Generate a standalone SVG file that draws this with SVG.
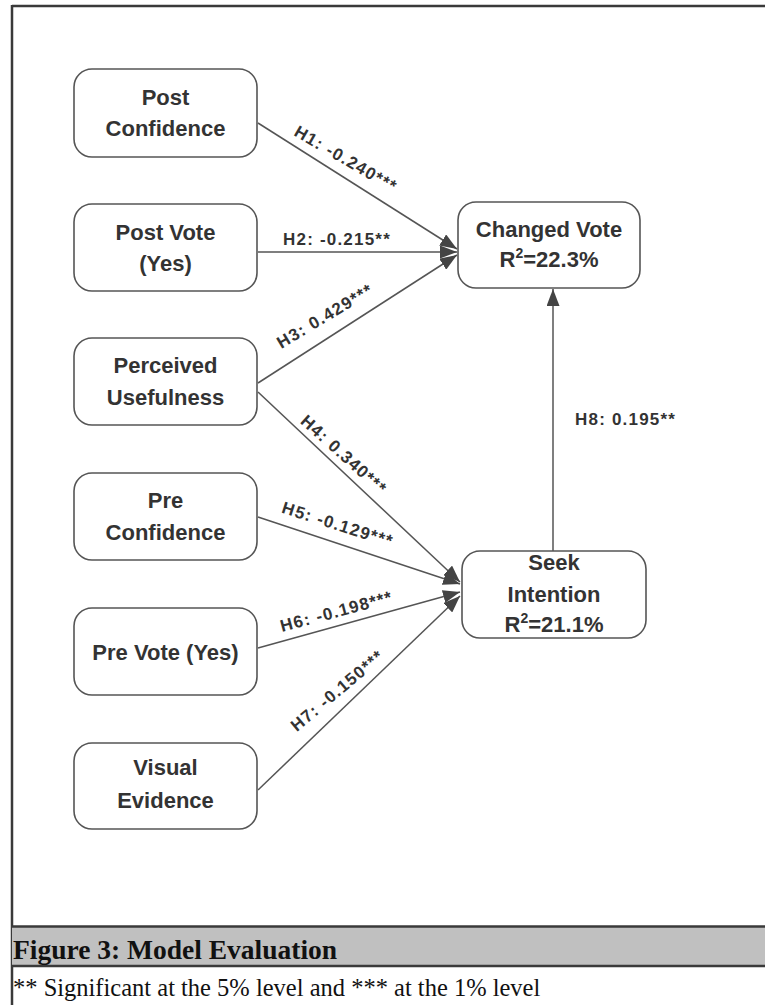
<svg xmlns="http://www.w3.org/2000/svg" width="765" height="1005" viewBox="0 0 765 1005">
<style>
.box{fill:#fff;stroke:#555;stroke-width:1.6}
.nt{font-family:"Liberation Sans",Arial,sans-serif;font-weight:bold;font-size:22px;fill:#333;text-anchor:middle}
.lb{font-family:"Liberation Sans",Arial,sans-serif;font-weight:bold;font-size:17px;fill:#333;text-anchor:middle;letter-spacing:1.2px}
.ln{fill:none;stroke:#555;stroke-width:1.5}
.frame{stroke:#3a3a3a;stroke-width:2.5;fill:none}
</style>
<defs>
<marker id="ah" markerUnits="userSpaceOnUse" viewBox="0 0 17 13" refX="17" refY="6.5" markerWidth="17" markerHeight="13" orient="auto">
<path d="M0,0 L17,6.5 L0,13 z" fill="#444"/>
</marker>
</defs>
<rect width="765" height="1005" fill="#fff"/>
<g id="frame">
<line class="frame" x1="12" y1="6" x2="765" y2="6"/>
<line class="frame" x1="12" y1="5" x2="12" y2="1005"/>
<rect x="12" y="926" width="753" height="40" fill="#c0c0c0"/>
<line class="frame" x1="12" y1="926.5" x2="765" y2="926.5"/>
<line class="frame" x1="12" y1="966" x2="765" y2="966"/>
<text x="13" y="959" font-family="'Liberation Serif','Times New Roman',serif" font-weight="bold" font-size="27.5" fill="#111">Figure 3: Model Evaluation</text>
<text x="13" y="996" font-family="'Liberation Serif','Times New Roman',serif" font-size="24.5" fill="#111">** Significant at the 5% level and *** at the 1% level</text>
</g>
<g id="connectors">
<line class="ln" x1="258" y1="123" x2="457" y2="249" marker-end="url(#ah)"/>
<line class="ln" x1="258" y1="252" x2="457" y2="252" marker-end="url(#ah)"/>
<line class="ln" x1="258" y1="383" x2="457" y2="255" marker-end="url(#ah)"/>
<line class="ln" x1="258" y1="392" x2="460" y2="582" marker-end="url(#ah)"/>
<line class="ln" x1="258" y1="517" x2="460" y2="584" marker-end="url(#ah)"/>
<line class="ln" x1="258" y1="648" x2="460" y2="592" marker-end="url(#ah)"/>
<line class="ln" x1="258" y1="790" x2="460" y2="596" marker-end="url(#ah)"/>
<line class="ln" x1="553" y1="551" x2="553" y2="289" marker-end="url(#ah)"/>
<text class="lb" transform="translate(343,164) rotate(30)">H1: -0.240***</text>
<text class="lb" x="337" y="245">H2: -0.215**</text>
<text class="lb" transform="translate(328,321) rotate(-31)">H3: 0.429***</text>
<text class="lb" transform="translate(340,459) rotate(42)">H4: 0.340***</text>
<text class="lb" transform="translate(336,530) rotate(17.5)">H5: -0.129***</text>
<text class="lb" transform="translate(338,617) rotate(-15)">H6: -0.198***</text>
<text class="lb" transform="translate(341,695) rotate(-40)">H7: -0.150***</text>
<text class="lb" x="575" y="425" style="text-anchor:start">H8: 0.195**</text>
</g>
<g id="post-confidence">
<rect class="box" x="74" y="69" width="183" height="88" rx="18"/>
<text class="nt" x="165.5" y="105">Post</text>
<text class="nt" x="165.5" y="136">Confidence</text>
</g>
<g id="post-vote">
<rect class="box" x="74" y="204" width="183" height="87" rx="18"/>
<text class="nt" x="165.5" y="240">Post Vote</text>
<text class="nt" x="165.5" y="271">(Yes)</text>
</g>
<g id="perceived-usefulness">
<rect class="box" x="74" y="338" width="183" height="87" rx="18"/>
<text class="nt" x="165.5" y="373">Perceived</text>
<text class="nt" x="165.5" y="405">Usefulness</text>
</g>
<g id="pre-confidence">
<rect class="box" x="74" y="473" width="183" height="87" rx="18"/>
<text class="nt" x="165.5" y="508">Pre</text>
<text class="nt" x="165.5" y="540">Confidence</text>
</g>
<g id="pre-vote">
<rect class="box" x="74" y="608" width="183" height="87" rx="18"/>
<text class="nt" x="165.5" y="660">Pre Vote (Yes)</text>
</g>
<g id="visual-evidence">
<rect class="box" x="74" y="743" width="183" height="86" rx="18"/>
<text class="nt" x="165.5" y="775">Visual</text>
<text class="nt" x="165.5" y="808">Evidence</text>
</g>
<g id="changed-vote">
<rect class="box" x="458" y="202" width="182" height="86" rx="18"/>
<text class="nt" x="549" y="237">Changed Vote</text>
<text class="nt" x="549" y="267">R<tspan font-size="14" dy="-9">2</tspan><tspan dy="9">=22.3%</tspan></text>
</g>
<g id="seek-intention">
<rect class="box" x="462" y="551" width="184" height="87" rx="18"/>
<text class="nt" x="554" y="570">Seek</text>
<text class="nt" x="554" y="602">Intention</text>
<text class="nt" x="554" y="632">R<tspan font-size="14" dy="-9">2</tspan><tspan dy="9">=21.1%</tspan></text>
</g>
</svg>
